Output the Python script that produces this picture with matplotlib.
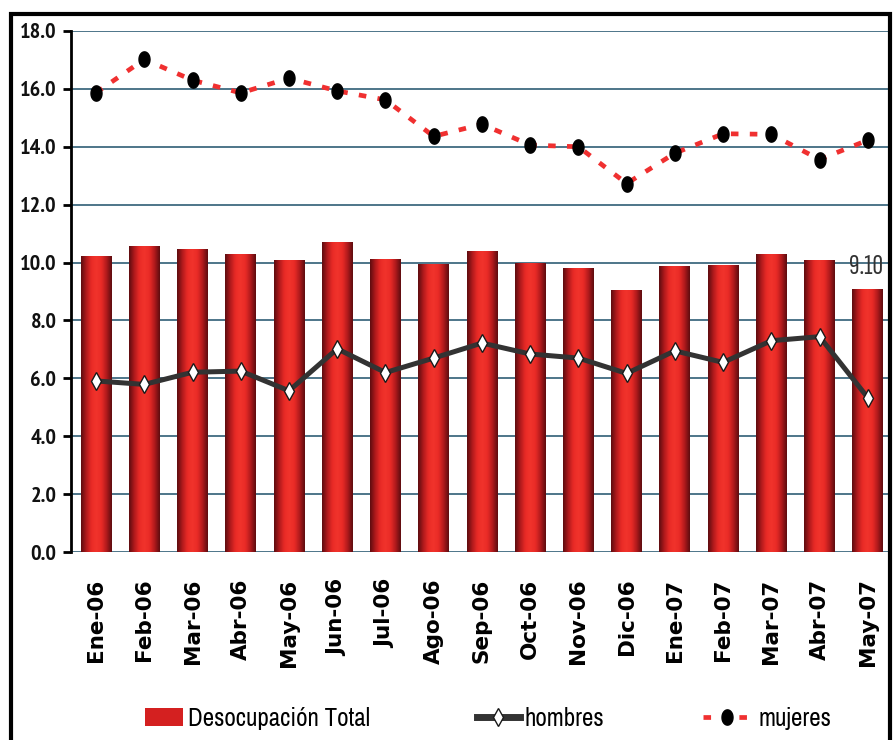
import numpy as np
import matplotlib
matplotlib.use("Agg")
import matplotlib.pyplot as plt
from matplotlib.patches import Rectangle
from matplotlib.colors import LinearSegmentedColormap
from matplotlib.lines import Line2D
from matplotlib.path import Path

NARROW = ['Archivo Narrow', 'PT Sans Narrow', 'Liberation Sans', 'DejaVu Sans']
TICKFONT = ['PT Sans Narrow', 'Archivo Narrow', 'DejaVu Sans']
XCONDENSED = ['Sofia Sans Extra Condensed', 'Archivo Narrow', 'DejaVu Sans']
plt.rcParams['font.family'] = NARROW

months = ["Ene-06", "Feb-06", "Mar-06", "Abr-06", "May-06", "Jun-06", "Jul-06", "Ago-06",
          "Sep-06", "Oct-06", "Nov-06", "Dic-06", "Ene-07", "Feb-07", "Mar-07", "Abr-07", "May-07"]
total = [10.24, 10.58, 10.46, 10.28, 10.08, 10.71, 10.12, 9.95,
         10.40, 9.99, 9.81, 9.05, 9.89, 9.93, 10.29, 10.09, 9.10]
hombres = [5.91, 5.79, 6.21, 6.25, 5.57, 7.02, 6.20, 6.70,
           7.22, 6.84, 6.70, 6.17, 6.95, 6.55, 7.30, 7.44, 5.33]
mujeres = [15.87, 17.02, 16.30, 15.86, 16.37, 15.93, 15.62, 14.36,
           14.78, 14.06, 14.00, 12.73, 13.78, 14.45, 14.43, 13.56, 14.23]
yticks = [0, 2, 4, 6, 8, 10, 12, 14, 16, 18]
last_label = "9.10"

W, H = 896, 740
fig = plt.figure(figsize=(W / 100, H / 100), dpi=100)
ax = fig.add_axes([71 / W, 1 - 552 / H, (890 - 71) / W, (552 - 31) / H])

x = np.arange(len(months))
bars = ax.bar(x, total, width=0.64, color='#d42020', zorder=2)

cmap = LinearSegmentedColormap.from_list(
    'bar', ['#5e0c10', '#b01a1c', '#e82a26', '#f2342c', '#e82a26', '#b01a1c', '#5e0c10'])
grad = np.linspace(0, 1, 64).reshape(1, -1)
for b in bars:
    bx, by = b.get_x(), b.get_y()
    bw, bh = b.get_width(), b.get_height()
    im = ax.imshow(grad, cmap=cmap, extent=(bx, bx + bw, by, by + bh), aspect='auto', zorder=2.1,
                   interpolation='bicubic')
    im.set_clip_path(b)

# tall ellipse marker
t = np.linspace(0, 2 * np.pi, 40)
ell = Path(np.column_stack([0.72 * np.cos(t), np.sin(t)]), closed=True)

ax.plot(x, hombres, color='#333333', lw=3.6, marker='d', markersize=9, markerfacecolor='white',
        markeredgecolor='#1a1a1a', markeredgewidth=1.0, zorder=4)
ax.plot(x, mujeres, color='#f03030', lw=3.4, linestyle=(0, (1.6, 2.4)), zorder=4)
ax.plot(x, mujeres, linestyle='none', marker=ell, markersize=11, color='black', zorder=5)

ax.text(x[-1] - 0.04, total[-1] + 0.5, last_label, ha='center', va='baseline', fontsize=21,
        color='#333333', family=XCONDENSED, fontweight='medium', zorder=6)

ax.set_xlim(-0.52, 16.46)
ax.set_ylim(0, 18)
ax.set_yticks(yticks)
ax.set_yticklabels([f"{v:.1f}" for v in yticks], fontsize=16, fontweight='bold', color='#111111',
                   family=TICKFONT)
ax.set_xticks(x)
ax.set_xticklabels(months, rotation=90, fontsize=15.5, fontweight='bold', va='top',
                   family=['DejaVu Sans'])
ax.tick_params(axis='x', length=0, pad=19)
ax.tick_params(axis='y', direction='out', length=5.5, width=2, color='black', pad=5)
ax.yaxis.grid(True, color='#4d7589', lw=1.4, zorder=1)
ax.set_axisbelow(True)
for s in ['top', 'right', 'bottom']:
    ax.spines[s].set_visible(False)
ax.spines['left'].set_linewidth(2)

# legend (three entries placed as in the reference)
ly = 1 - 718 / H
common = dict(loc='center left', frameon=False, fontsize=18, borderpad=0, borderaxespad=0)
h1 = Rectangle((0, 0), 1, 1, facecolor='#d42020')
l1 = fig.legend([h1], ['Desocupación Total'], bbox_to_anchor=(145 / W, ly), handlelength=1.5,
                handleheight=0.75, handletextpad=0.2, **common)
h2 = Line2D([], [], color='#333333', lw=5, marker='d', markersize=9, markerfacecolor='white',
            markeredgecolor='#1a1a1a')
l2 = fig.legend([h2], ['hombres'], bbox_to_anchor=(477 / W, ly), handlelength=1.7,
                handletextpad=0.2, **common)
h3 = Line2D([], [], color='#f03030', lw=3.4, linestyle=(0, (1.6, 6)), marker=ell, markersize=11,
            markerfacecolor='black', markeredgecolor='black')
l3 = fig.legend([h3], ['mujeres'], bbox_to_anchor=(703 / W, ly), handlelength=1.9,
                handletextpad=0.3, **common)

# figure border
fig.patches.append(Rectangle((11 / W, -0.05), (890 - 11) / W, 1.05 - 14 / H, transform=fig.transFigure,
                             fill=False, edgecolor='black', lw=3.0, zorder=10))

fig.savefig('out.png', dpi=100)
